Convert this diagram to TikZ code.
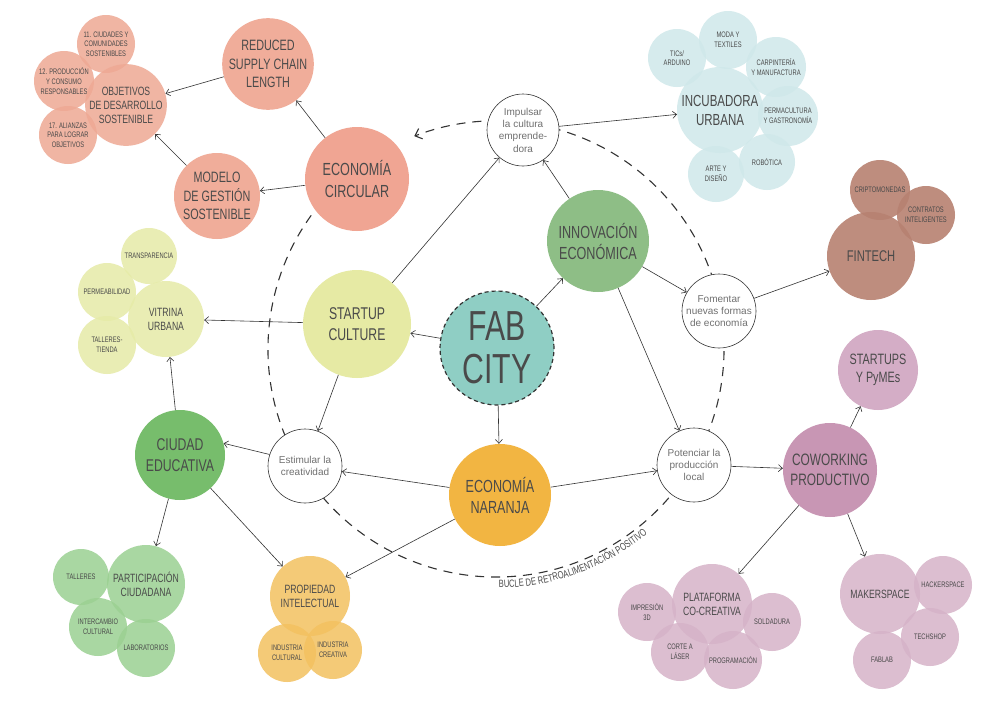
\documentclass[tikz,border=0pt]{standalone}
\usepackage{fontspec}
\setmainfont{Liberation Sans}
\newfontfamily\cond{Liberation Sans}[FakeStretch=0.72]
\usetikzlibrary{arrows.meta,decorations.text}
\definecolor{txt}{HTML}{4A4A4A}
\definecolor{wtxt}{HTML}{707070}
\definecolor{linec}{HTML}{333333}
\definecolor{pinkS}{HTML}{EEA994}
\definecolor{pinkM}{HTML}{F0AD9A}
\definecolor{pinkC}{HTML}{F0A593}
\definecolor{blueS}{HTML}{CFE8EA}
\definecolor{fabc}{HTML}{8FCEC4}
\definecolor{innovc}{HTML}{8EBE86}
\definecolor{brownS}{HTML}{B78171}
\definecolor{startc}{HTML}{E6EAA4}
\definecolor{yellowS}{HTML}{E6EBA8}
\definecolor{ciudadc}{HTML}{77BD6C}
\definecolor{greenS}{HTML}{9BD092}
\definecolor{naranjac}{HTML}{F2B542}
\definecolor{orangeS}{HTML}{F3C160}
\definecolor{coworkc}{HTML}{C896B4}
\definecolor{startupsc}{HTML}{D4ADC6}
\definecolor{mauveS}{HTML}{D6B3C8}
\newcommand\cfont[2]{\cond\fontsize{#1}{#2}\selectfont}
\newcommand\fsmall{\cond\fontsize{8}{9.6}\selectfont}
\newcommand\fwhite{\fontsize{10}{12.3}\selectfont}
\begin{document}
\begin{tikzpicture}[x=1pt,y=-1pt,
  bub/.style={circle,inner sep=0pt,align=center,text=txt},
  sat/.style={bub,fill opacity=0.85,text opacity=1,font=\fsmall,minimum size=58pt},
  wht/.style={circle,inner sep=0pt,align=center,draw=linec,line width=0.6pt,fill=white,text=wtxt,font=\fwhite,minimum size=74pt},
  arr/.style={draw=linec,line width=0.6pt,-{Straight Barb[length=4pt,width=7pt]}},
  bucle/.style={draw=linec,line width=1.1pt,dash pattern=on 9pt off 7pt,-{Straight Barb[length=6pt,width=11pt,line width=1.1pt]}}
]
\useasboundingbox (0,0) rectangle (1000,707);
\fill[white] (0,0) rectangle (1000,707);

% feedback loop
\draw[bucle] (496,349) ++(240:228) arc[start angle=600,end angle=249,radius=228];
\path[decorate,decoration={text along path,text align=center,text color=txt,
  text={|\cfont{10.5}{12}|BUCLE DE RETROALIMENTACIÓN POSITIVO}}]
  (496,349) ++(91.5:239) arc[start angle=91.5,end angle=48.5,radius=239];

% top-left cluster
\node[sat,fill=pinkS] (s11) at (106,44) {11. CIUDADES Y\\COMUNIDADES\\SOSTENIBLES};
\node[sat,fill=pinkS,minimum size=60pt] (s12) at (64,81) {12. PRODUCCIÓN\\Y CONSUMO\\RESPONSABLES};
\node[sat,fill=pinkS] (s17) at (68,135) {17. ALIANZAS\\PARA LOGRAR\\OBJETIVOS};
\node[sat,fill=pinkS,minimum size=78pt,font=\cfont{12}{14}] (obj) at (126,105) {OBJETIVOS\\DE DESARROLLO\\SOSTENIBLE};
\node[bub,fill=pinkM,minimum size=88pt,font=\cfont{15}{18.5}] (reduced) at (268,64) {REDUCED\\SUPPLY CHAIN\\LENGTH};
\node[bub,fill=pinkM,minimum size=86pt,font=\cfont{15}{18.5}] (modelo) at (217,196) {MODELO\\DE GESTIÓN\\SOSTENIBLE};
\node[bub,fill=pinkC,minimum size=104pt,font=\cfont{17.5}{22}] (circ) at (357,179) {ECONOMÍA\\CIRCULAR};

% incubadora cluster
\node[sat,fill=blueS] (tics) at (677,58) {TICs/\\ARDUINO};
\node[sat,fill=blueS] (moda) at (728,40) {MODA Y\\TEXTILES};
\node[sat,fill=blueS,minimum size=60pt] (carp) at (776,67) {CARPINTERÍA\\Y MANUFACTURA};
\node[sat,fill=blueS,minimum size=60pt] (perma) at (788,116) {PERMACULTURA\\Y GASTRONOMÍA};
\node[sat,fill=blueS,minimum size=56pt] (robot) at (767,162) {ROBÓTICA};
\node[sat,fill=blueS,minimum size=56pt] (arte) at (716,174) {ARTE Y\\DISEÑO};
\node[sat,fill=blueS,minimum size=86pt,font=\cfont{16}{19}] (incub) at (720,110) {INCUBADORA\\URBANA};

% fintech cluster
\node[sat,fill=brownS,fill opacity=0.9,minimum size=60pt] (cripto) at (880,190) {CRIPTOMONEDAS};
\node[sat,fill=brownS,fill opacity=0.9] (contr) at (926,215) {CONTRATOS\\INTELIGENTES};
\node[sat,fill=brownS,fill opacity=0.9,minimum size=88pt,font=\cfont{15.5}{18}] (fintech) at (871,256) {FINTECH};

% vitrina cluster
\node[sat,fill=yellowS,minimum size=56pt] (transp) at (149,256) {TRANSPARENCIA};
\node[sat,fill=yellowS] (perme) at (107,292) {PERMEABILIDAD};
\node[sat,fill=yellowS] (tallt) at (107,345) {TALLERES-\\TIENDA};
\node[sat,fill=yellowS,minimum size=76pt,font=\cfont{12}{14}] (vitrina) at (166,319) {VITRINA\\URBANA};

% center
\node[bub,fill=startc,minimum size=108pt,font=\cfont{17}{21}] (startup) at (357,324) {STARTUP\\CULTURE};
\node[bub,fill=fabc,draw=linec,line width=1.2pt,dash pattern=on 4pt off 3pt,minimum size=114pt,font=\cfont{42}{43}] (fab) at (497,348) {FAB\\CITY};
\node[bub,fill=innovc,minimum size=102pt,font=\cfont{17.5}{21}] (innov) at (598,241) {INNOVACIÓN\\ECONÓMICA};
\node[bub,fill=naranjac,minimum size=102pt,font=\cfont{17.5}{21}] (naranja) at (500,495) {ECONOMÍA\\NARANJA};

% white circles
\node[wht,minimum size=72pt] (impulsar) at (523,130) {Impulsar\\la cultura\\emprende-\\dora};
\node[wht] (fomentar) at (719,311) {Fomentar\\nuevas formas\\de economía};
\node[wht] (estim) at (305,466) {Estimular la\\creatividad};
\node[wht] (potenc) at (694,465) {Potenciar la\\producción\\local};

% ciudad educativa cluster
\node[bub,fill=ciudadc,minimum size=90pt,font=\cfont{17}{21}] (ciudad) at (180,455) {CIUDAD\\EDUCATIVA};
\node[sat,fill=greenS,minimum size=56pt] (talleres) at (81,577) {TALLERES};
\node[sat,fill=greenS] (interc) at (98,627) {INTERCAMBIO\\CULTURAL};
\node[sat,fill=greenS] (labs) at (146,648) {LABORATORIOS};
\node[sat,fill=greenS,minimum size=78pt,font=\cfont{12}{14}] (partic) at (146,584) {PARTICIPACIÓN\\CIUDADANA};

% propiedad cluster
\node[sat,fill=orangeS] (indcult) at (287,653) {INDUSTRIA\\CULTURAL};
\node[sat,fill=orangeS] (indcrea) at (333,650) {INDUSTRIA\\CREATIVA};
\node[sat,fill=orangeS,minimum size=80pt,font=\cfont{12}{14}] (propiedad) at (310,596) {PROPIEDAD\\INTELECTUAL};

% coworking
\node[bub,fill=coworkc,minimum size=94pt,font=\cfont{16.5}{20}] (cowork) at (830,470) {COWORKING\\PRODUCTIVO};
\node[bub,fill=startupsc,minimum size=80pt,font=\cfont{15}{18}] (startups) at (878,370) {STARTUPS\\Y PyMEs};

% plataforma cluster
\node[sat,fill=mauveS] (imp3d) at (647,612) {IMPRESIÓN\\3D};
\node[sat,fill=mauveS] (sold) at (772,622) {SOLDADURA};
\node[sat,fill=mauveS] (corte) at (680,652) {CORTE A\\LÁSER};
\node[sat,fill=mauveS] (prog) at (733,660) {PROGRAMACIÓN};
\node[sat,fill=mauveS,minimum size=80pt,font=\cfont{12}{14}] (plataf) at (712,604) {PLATAFORMA\\CO-CREATIVA};

% makerspace cluster
\node[sat,fill=mauveS] (hacker) at (943,585) {HACKERSPACE};
\node[sat,fill=mauveS] (tech) at (930,637) {TECHSHOP};
\node[sat,fill=mauveS] (fablab) at (882,660) {FABLAB};
\node[sat,fill=mauveS,minimum size=80pt,font=\cfont{12}{14}] (maker) at (880,594) {MAKERSPACE};

% connectors
\draw[arr] (reduced) -- (obj);
\draw[arr] (modelo) -- (obj);
\draw[arr] (circ) -- (reduced);
\draw[arr] (circ) -- (modelo);
\draw[arr] (startup) -- (impulsar);
\draw[arr] (innov) -- (impulsar);
\draw[arr] (impulsar) -- (incub);
\draw[arr] (fab) -- (innov);
\draw[arr] (fab) -- (startup);
\draw[arr] (fab) -- (naranja);
\draw[arr] (innov) -- (fomentar);
\draw[arr] (innov) -- (potenc);
\draw[arr] (fomentar) -- (fintech);
\draw[arr] (startup) -- (vitrina);
\draw[arr] (startup) -- (estim);
\draw[arr] (estim.162) -- (ciudad.15);
\draw[arr] (naranja) -- (estim);
\draw[arr] (naranja) -- (potenc);
\draw[arr] (potenc) -- (cowork);
\draw[arr] (cowork) -- (startups);
\draw[arr] (cowork) -- (plataf);
\draw[arr] (cowork) -- (maker);
\draw[arr] (ciudad) -- (vitrina);
\draw[arr] (ciudad) -- (partic);
\draw[arr] (ciudad) -- (propiedad);
\draw[arr] (naranja) -- (propiedad);
\end{tikzpicture}
\end{document}
